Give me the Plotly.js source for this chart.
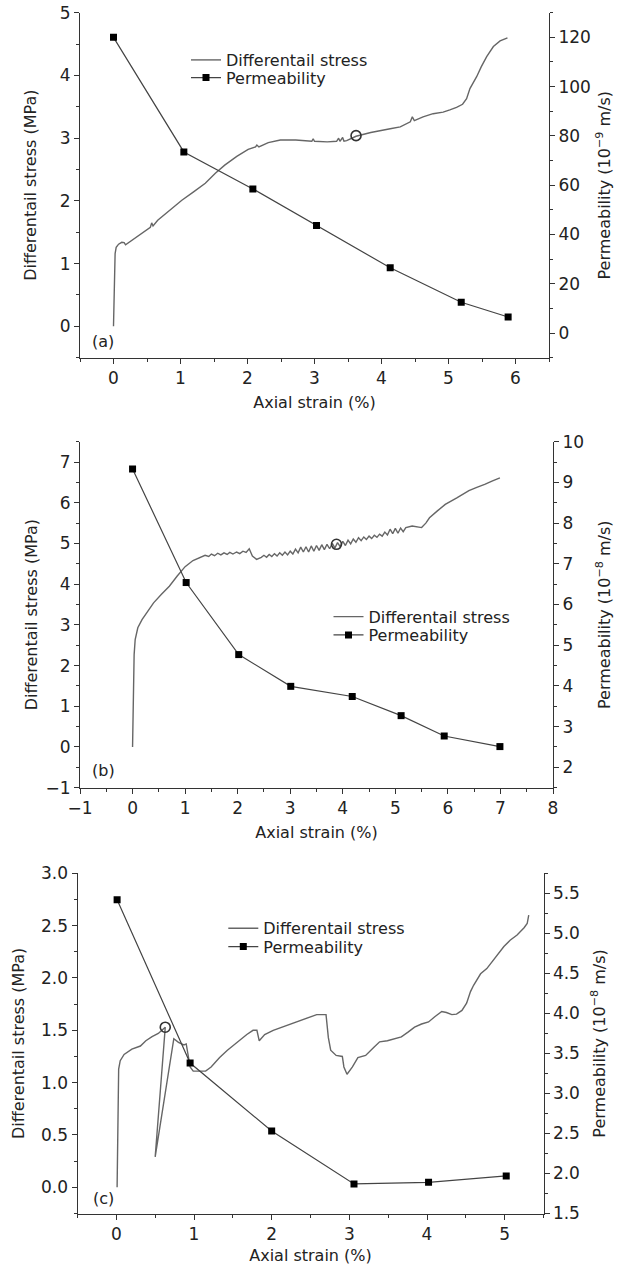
<!DOCTYPE html>
<html>
<head>
<meta charset="utf-8">
<script src="https://cdn.plot.ly/plotly-3.0.1.min.js"></script>
<style>html,body{margin:0;padding:0;background:#fff;}#chart{width:618px;height:1265px;}</style>
</head>
<body>
<div id="chart"></div>
<script>
// ---------- Panel (a) ----------
const strainA = [0,0.012,0.024,0.04,0.076,0.123,0.159,0.18,0.22,0.34,0.49,0.55,0.57,0.59,0.66,0.84,1.02,1.19,1.37,1.52,1.66,1.84,2.01,2.12,2.14,2.17,2.31,2.49,2.72,2.96,2.98,3.0,3.19,3.33,3.36,3.38,3.42,3.44,3.48,3.62,3.84,4.13,4.28,4.43,4.46,4.49,4.62,4.77,4.92,5.02,5.12,5.21,5.27,5.32,5.42,5.49,5.57,5.67,5.77,5.88];
const stressA = [0,0.68,1.16,1.26,1.31,1.34,1.335,1.30,1.33,1.415,1.53,1.58,1.65,1.60,1.69,1.85,2.01,2.14,2.28,2.44,2.57,2.71,2.82,2.86,2.89,2.86,2.93,2.97,2.97,2.95,2.99,2.95,2.94,2.95,3.0,2.95,3.01,2.95,2.96,3.03,3.09,3.15,3.18,3.26,3.34,3.28,3.34,3.39,3.415,3.45,3.49,3.54,3.63,3.79,3.98,4.14,4.30,4.46,4.55,4.60];
const permStrainA = [0,1.05,2.08,3.03,4.13,5.19,5.89];
const permA = [120,73.5,58.5,43.6,26.5,12.5,6.5];
const markA = {x:[3.62], y:[3.04]};

// ---------- Panel (b) ----------
const strainB = [0,0.015,0.03,0.05,0.1,0.18,0.29,0.4,0.55,0.7,0.85,1.0,1.15,1.3,1.38,1.45,1.5,1.56,1.62,1.68,1.74,1.8,1.85,1.91,1.98,2.04,2.1,2.16,2.22,2.28,2.36,2.45,2.50,2.55,2.60,2.65,2.70,2.75,2.80,2.85,2.90,2.95,3.00,3.05,3.10,3.15,3.20,3.25,3.30,3.35,3.40,3.45,3.50,3.55,3.60,3.65,3.70,3.75,3.80,3.85,3.90,3.95,4.00,4.05,4.10,4.15,4.20,4.25,4.30,4.35,4.40,4.45,4.50,4.55,4.60,4.65,4.70,4.75,4.80,4.85,4.90,4.95,5.00,5.05,5.10,5.15,5.20,5.32,5.5,5.58,5.65,5.8,5.95,6.17,6.4,6.55,6.7,6.85,6.99];
const stressB = [0,1.12,2.27,2.64,2.93,3.13,3.34,3.54,3.75,3.95,4.2,4.43,4.58,4.66,4.71,4.68,4.74,4.70,4.76,4.72,4.77,4.73,4.78,4.74,4.79,4.75,4.81,4.78,4.87,4.69,4.61,4.66,4.71,4.66,4.73,4.68,4.75,4.69,4.77,4.71,4.79,4.72,4.81,4.74,4.86,4.77,4.91,4.79,4.92,4.79,4.94,4.81,4.95,4.83,4.97,4.85,4.98,4.87,5.00,4.89,5.02,4.92,5.05,4.95,5.08,4.99,5.11,5.03,5.14,5.07,5.16,5.10,5.18,5.12,5.20,5.15,5.23,5.18,5.28,5.21,5.35,5.24,5.37,5.25,5.38,5.29,5.39,5.43,5.39,5.50,5.63,5.80,5.96,6.12,6.30,6.38,6.45,6.54,6.61];
const permStrainB = [0,1.02,2.02,3.01,4.18,5.11,5.93,6.99];
const permB = [9.33,6.54,4.77,3.99,3.74,3.27,2.77,2.51];
const markB = {x:[3.88], y:[4.98]};

// ---------- Panel (c) ----------
const strainC = [0.01,0.02,0.03,0.05,0.1,0.2,0.31,0.38,0.46,0.54,0.63,0.5,0.74,0.80,0.87,0.90,0.92,0.95,0.99,1.15,1.22,1.33,1.43,1.56,1.68,1.76,1.81,1.84,1.91,2.02,2.17,2.37,2.58,2.70,2.73,2.76,2.83,2.91,2.93,2.97,3.04,3.11,3.21,3.32,3.39,3.49,3.67,3.76,3.84,3.93,4.02,4.10,4.19,4.25,4.32,4.38,4.45,4.51,4.56,4.60,4.69,4.77,4.88,4.99,5.07,5.16,5.25,5.29,5.31];
const stressC = [0,0.64,1.13,1.21,1.27,1.32,1.35,1.40,1.44,1.47,1.53,0.29,1.42,1.385,1.36,1.37,1.27,1.15,1.11,1.11,1.15,1.24,1.31,1.39,1.46,1.50,1.50,1.40,1.46,1.50,1.54,1.59,1.65,1.65,1.43,1.31,1.26,1.25,1.15,1.08,1.15,1.24,1.26,1.34,1.39,1.40,1.437,1.485,1.53,1.56,1.58,1.63,1.68,1.67,1.65,1.655,1.69,1.76,1.87,1.93,2.04,2.09,2.19,2.30,2.36,2.41,2.48,2.52,2.60];
const permStrainC = [0.01,0.95,2.0,3.06,4.02,5.02];
const permC = [5.42,3.38,2.53,1.87,1.89,1.97];
const markC = {x:[0.63], y:[1.53]};

const panelLabels = ['(a)','(b)','(c)'];
const xTitle = 'Axial strain (%)';
const yTitle = 'Differentail stress (MPa)';
const y2Titles = ['Permeability (10<sup>\u22129</sup> m/s)','Permeability (10<sup>\u22128</sup> m/s)','Permeability (10<sup>\u22128</sup> m/s)'];
const nameStress = 'Differentail stress';
const namePerm = 'Permeability';

const FONT = 'DejaVu Sans, Arial, sans-serif';
const TXT = '#222';
const AX = '#333';
const W = 618, H = 1265;

function px2x(p){return p/W;}
function py2y(p){return 1-p/H;}

const panels = [
  {sx:strainA, sy:stressA, px:permStrainA, py:permA, mk:markA, xa:'x', ya:'y', ya2:'y2',
   xdom:[80,549], ydom:[12.7,357.7], xr:[-0.5,6.5], yr:[-0.5,5], y2r:[-10,130], xd:1, yd:1, y2d:20, yfmt:'', y2fmt:'',
   leg:{x:186, y1:43, y2:60.7}, lab:{x:-0.15, y:-0.235}, ys:19, y2s:8},
  {sx:strainB, sy:stressB, px:permStrainB, py:permB, mk:markB, xa:'x2', ya:'y3', ya2:'y4',
   xdom:[80,553], ydom:[441.7,787.7], xr:[-1,8], yr:[-1,7.5], y2r:[1.5,10], xd:1, yd:1, y2d:1, yfmt:'', y2fmt:'',
   leg:{x:328.5, y1:599.7, y2:618}, lab:{x:-0.55, y:-0.58}, ys:3, y2s:15},
  {sx:strainC, sy:stressC, px:permStrainC, py:permC, mk:markC, xa:'x3', ya:'y5', ya2:'y6',
   xdom:[77.5,543.5], ydom:[873.3,1213.5], xr:[-0.5,5.5], yr:[-0.25,3.0], y2r:[1.5,5.75], xd:1, yd:0.5, y2d:0.5, yfmt:'.1f', y2fmt:'.1f',
   leg:{x:223.3, y1:911.3, y2:929.7}, lab:{x:-0.17, y:-0.11}, ys:12, y2s:14}
];

const traces = [];
const layout = {
  width: W, height: H,
  margin: {l:0, r:0, t:0, b:0},
  paper_bgcolor: '#fff', plot_bgcolor: 'rgba(0,0,0,0)',
  font: {family: FONT, size: 16, color: TXT},
  showlegend: true,
  annotations: []
};

function legendBox(x, y){
  return {
    x: px2x(x), y: py2y(y), xanchor:'left', yanchor:'top',
    bgcolor:'rgba(0,0,0,0)', borderwidth:0, itemwidth:30, tracegroupgap:0,
    font:{family:FONT, size:16, color:TXT}
  };
}

panels.forEach((p, i) => {
  const legS = 'legend' + (2*i===0 ? '' : (2*i+1));
  const legP = 'legend' + (2*i+2);
  traces.push({
    type:'scatter', mode:'lines', x:p.sx, y:p.sy, xaxis:p.xa, yaxis:p.ya,
    name:nameStress, legend:legS,
    line:{color:'#666', width:1.4}
  });
  traces.push({
    type:'scatter', mode:'lines+markers', x:p.px, y:p.py, xaxis:p.xa, yaxis:p.ya2,
    name:namePerm, legend:legP,
    line:{color:'#444', width:1.2},
    marker:{symbol:'square', size:7, color:'#000'}
  });
  traces.push({
    type:'scatter', mode:'markers', x:p.mk.x, y:p.mk.y, xaxis:p.xa, yaxis:p.ya,
    showlegend:false,
    marker:{symbol:'circle-open', size:10, color:'#333', line:{width:1.6, color:'#333'}}
  });

  const xk = 'xaxis' + (i===0?'':(i+1));
  const yk = 'yaxis' + (i===0?'':(2*i+1));
  const y2k = 'yaxis' + (2*i+2);
  const topk = 'xaxis' + (i+4);
  const xdom = [px2x(p.xdom[0]), px2x(p.xdom[1])];
  const ydom = [py2y(p.ydom[1]), py2y(p.ydom[0])];
  const tickfont = {family:FONT, size:17, color:TXT};
  const common = {showgrid:false, zeroline:false, showline:true, linecolor:AX, linewidth:1,
                  ticks:'outside', ticklen:5, tickwidth:1, tickcolor:AX, tickfont:tickfont};

  layout[xk] = Object.assign({}, common, {
    domain:xdom, range:p.xr, anchor:p.ya, dtick:p.xd, tick0:0,
    minor:{dtick:p.xd/2, ticks:'outside', ticklen:3, tickcolor:AX, showgrid:false},
    title:{text:xTitle, standoff:9, font:{family:FONT, size:16, color:TXT}}
  });
  layout[yk] = Object.assign({}, common, {
    domain:ydom, range:p.yr, anchor:p.xa, dtick:p.yd, tick0:0, tickformat:p.yfmt,
    minor:{dtick:p.yd/2, ticks:'outside', ticklen:3, tickcolor:AX, showgrid:false},
    title:{text:yTitle, standoff:p.ys, font:{family:FONT, size:16, color:TXT}}
  });
  layout[y2k] = Object.assign({}, common, {
    range:p.y2r, anchor:p.xa, overlaying:p.ya, side:'right', dtick:p.y2d, tick0:0, tickformat:p.y2fmt,
    minor:{dtick:p.y2d/2, ticks:'outside', ticklen:3, tickcolor:AX, showgrid:false},
    title:{text:y2Titles[i], standoff:p.y2s, font:{family:FONT, size:16, color:TXT}}
  });
  layout[topk] = {
    domain:xdom, range:p.xr, anchor:p.ya, overlaying:p.xa, side:'top',
    showgrid:false, zeroline:false, showline:true, linecolor:AX, linewidth:1,
    ticks:'inside', ticklen:5, tickcolor:AX, dtick:p.xd/2, tick0:0, showticklabels:false
  };

  layout[legS] = legendBox(p.leg.x, p.leg.y1);
  layout[legP] = legendBox(p.leg.x, p.leg.y2);

  layout.annotations.push({
    text: panelLabels[i], xref:p.xa, yref:p.ya,
    x: p.lab.x, y: p.lab.y,
    showarrow:false, font:{family:FONT, size:16, color:TXT}
  });
});

Plotly.newPlot('chart', traces, layout, {displayModeBar:false, staticPlot:true});
</script>
</body>
</html>
